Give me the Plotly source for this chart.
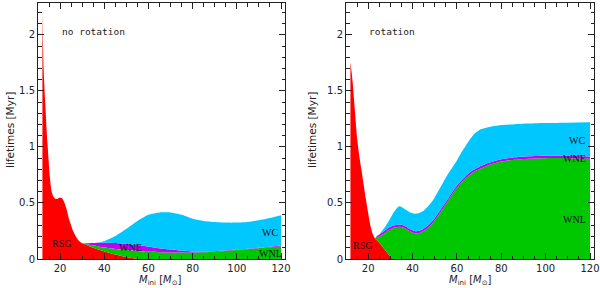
import plotly.graph_objects as go

# ---------------- data (cumulative upper edges of each phase, Myr) ----------------
# Left panel: no rotation
m_norot = [12, 12.5, 13.2, 14.3, 15.4, 16.1, 17, 18, 19, 20, 21, 22, 23, 24, 25, 26, 27, 28, 29, 30,
           32, 35, 38, 40, 45, 50, 55, 60, 65, 70, 75, 80, 85, 90, 95, 100, 105, 110, 115, 120]
rsg_norot = [2.2, 1.72, 1.42, 1.03, 0.73, 0.61, 0.555, 0.535, 0.54, 0.55, 0.54, 0.5, 0.44, 0.36, 0.3, 0.245,
             0.205, 0.175, 0.155, 0.14,
             0.125, 0.1, 0.08, 0.068, 0.04, 0.018, 0.003, 0, 0, 0, 0, 0, 0, 0, 0, 0, 0, 0, 0, 0]
wnl_norot = [2.2, 1.72, 1.42, 1.03, 0.73, 0.61, 0.555, 0.535, 0.54, 0.55, 0.54, 0.5, 0.44, 0.36, 0.3, 0.245,
             0.205, 0.175, 0.155, 0.14,
             0.135, 0.122, 0.11, 0.103, 0.09, 0.08, 0.072, 0.065, 0.061, 0.058, 0.057, 0.057, 0.06, 0.065,
             0.072, 0.08, 0.088, 0.097, 0.105, 0.112]
wne_norot = [2.2, 1.72, 1.42, 1.03, 0.73, 0.61, 0.555, 0.535, 0.54, 0.55, 0.54, 0.5, 0.44, 0.36, 0.3, 0.245,
             0.205, 0.175, 0.155, 0.14,
             0.14, 0.142, 0.144, 0.145, 0.143, 0.135, 0.124, 0.11, 0.096, 0.084, 0.074, 0.068, 0.067, 0.07,
             0.076, 0.084, 0.092, 0.101, 0.11, 0.12]
wc_norot = [2.2, 1.72, 1.42, 1.03, 0.73, 0.61, 0.555, 0.535, 0.54, 0.55, 0.54, 0.5, 0.44, 0.36, 0.3, 0.245,
            0.205, 0.175, 0.155, 0.14,
            0.14, 0.143, 0.15, 0.16, 0.205, 0.27, 0.34, 0.395, 0.415, 0.415, 0.395, 0.36, 0.34, 0.33,
            0.325, 0.325, 0.33, 0.345, 0.365, 0.39]

# Right panel: rotation
m_rot = [12, 13, 14, 15, 16, 17, 18, 19, 20, 21, 22, 23, 24, 25, 27, 29, 31, 33, 34, 35, 37, 39, 41, 43,
         45, 47, 49, 50, 52, 54, 56, 58, 60, 62, 64, 66, 68, 70, 74, 80, 90, 100, 110, 120]
rsg_rot = [1.76, 1.58, 1.33, 1.08, 0.92, 0.79, 0.66, 0.53, 0.41, 0.3, 0.225, 0.185, 0.165, 0.145, 0.095,
           0.045, 0, 0, 0, 0, 0, 0, 0, 0, 0, 0, 0, 0, 0, 0, 0, 0, 0, 0, 0, 0, 0, 0, 0, 0, 0, 0, 0, 0]
wnl_rot = [1.76, 1.58, 1.33, 1.08, 0.92, 0.79, 0.66, 0.53, 0.41, 0.3, 0.225, 0.185, 0.192, 0.2, 0.225,
           0.255, 0.275, 0.285, 0.287, 0.285, 0.27, 0.245, 0.228, 0.232, 0.25, 0.28, 0.32, 0.345, 0.4,
           0.46, 0.52, 0.58, 0.635, 0.68, 0.72, 0.755, 0.78, 0.8, 0.835, 0.87, 0.893, 0.9, 0.9, 0.895]
wne_rot = [1.76, 1.58, 1.33, 1.08, 0.92, 0.79, 0.66, 0.53, 0.41, 0.3, 0.225, 0.185, 0.205, 0.218, 0.245,
           0.276, 0.296, 0.306, 0.308, 0.306, 0.291, 0.266, 0.249, 0.253, 0.271, 0.301, 0.341, 0.366,
           0.421, 0.481, 0.541, 0.601, 0.656, 0.701, 0.741, 0.776, 0.801, 0.821, 0.856, 0.891, 0.914,
           0.921, 0.921, 0.916]
wc_rot = [1.76, 1.58, 1.33, 1.08, 0.92, 0.79, 0.66, 0.53, 0.41, 0.3, 0.225, 0.185, 0.2, 0.22, 0.27, 0.33,
          0.4, 0.455, 0.47, 0.465, 0.44, 0.415, 0.405, 0.41, 0.43, 0.47, 0.52, 0.55, 0.62, 0.69, 0.76,
          0.82, 0.88, 0.95, 1.01, 1.07, 1.12, 1.15, 1.175, 1.195, 1.208, 1.214, 1.217, 1.22]

phase_names = ["RSG", "WNL", "WNE", "WC"]
phase_colors = ["#ff0000", "#00c800", "#c400f4", "#00c8ff"]

panel_titles = ["no rotation", "rotation"]
labels_norot = [("RSG", 20.5, 0.134), ("WNE", 52, 0.104), ("WC", 115, 0.24), ("WNL", 115.3, 0.045)]
labels_rot = [("RSG", 17.3, 0.12), ("WNL", 113, 0.35), ("WNE", 113, 0.895), ("WC", 114.3, 1.06)]

x_range = [10, 121.8]
y_range = [0, 2.285]

# ---------------- geometry (pixels) ----------------
W, H = 600, 288
ML, MR, MT, MB = 38, 6, 3, 29
PW, PH = W - ML - MR, H - MT - MB


def px2paper_x(px):
    return (px - ML) / PW


def px2paper_y(py):
    return (H - MB - py) / PH


# ---------------- figure ----------------
fig = go.Figure()

panels = [
    ("x", "y", m_norot, [rsg_norot, wnl_norot, wne_norot, wc_norot]),
    ("x2", "y2", m_rot, [rsg_rot, wnl_rot, wne_rot, wc_rot]),
]
for xa, ya, m, tops in panels:
    for i, (top, col, name) in enumerate(zip(tops, phase_colors, phase_names)):
        fig.add_trace(go.Scatter(
            x=m, y=top, xaxis=xa, yaxis=ya, mode="lines",
            line=dict(width=0, color=col, shape="spline", smoothing=0.6),
            fill="tozeroy" if i == 0 else "tonexty", fillcolor=col,
            name=name, showlegend=False, hoverinfo="skip"))

tick_font = dict(family="DejaVu Sans", size=10, color="#222")
axis_common = dict(
    range=x_range, showgrid=False, zeroline=False, showline=True, linecolor="#222",
    linewidth=1, mirror="ticks", ticks="inside", ticklen=6, tickcolor="#222", tickwidth=1,
    tick0=0, dtick=20, automargin=False,
    minor=dict(ticks="inside", ticklen=3.5, dtick=5, tickcolor="#222", showgrid=False),
    tickfont=tick_font,
)
yaxis_common = dict(
    range=y_range, showgrid=False, zeroline=False, showline=True, linecolor="#222",
    linewidth=1, mirror="ticks", ticks="inside", ticklen=6, tickcolor="#222", tickwidth=1,
    tick0=0, dtick=0.5, automargin=False,
    minor=dict(ticks="inside", ticklen=3.5, dtick=0.1, tickcolor="#222", showgrid=False),
    tickfont=tick_font,
)

fig.update_layout(
    width=W, height=H,
    margin=dict(l=ML, r=MR, t=MT, b=MB, autoexpand=False),
    paper_bgcolor="white", plot_bgcolor="white",
    xaxis=dict(domain=[px2paper_x(38), px2paper_x(285)], anchor="y", **axis_common),
    yaxis=dict(domain=[0, 1], anchor="x", **yaxis_common),
    xaxis2=dict(domain=[px2paper_x(346), px2paper_x(594)], anchor="y2", **axis_common),
    yaxis2=dict(domain=[0, 1], anchor="x2", **yaxis_common),
)

annotations = []
for xref, yref, title, labs, tx in [("x", "y", panel_titles[0], labels_norot, 20),
                                    ("x2", "y2", panel_titles[1], labels_rot, 19.6)]:
    annotations.append(dict(x=tx, y=2.035, xref=xref, yref=yref, text=title, showarrow=False,
                            xanchor="left", yanchor="middle",
                            font=dict(family="DejaVu Sans Mono", size=9.5, color="#222")))
    for txt, lx, ly in labs:
        annotations.append(dict(x=lx, y=ly, xref=xref, yref=yref, text=txt, showarrow=False,
                                xanchor="center", yanchor="middle",
                                font=dict(family="Liberation Serif", size=10, color="#101020")))

# axis titles
for ytitle_px, xtitle_px in [(10, 160), (312, 470)]:
    annotations.append(dict(x=px2paper_x(ytitle_px), y=px2paper_y(130), xref="paper", yref="paper",
                            text="lifetimes [Myr]", textangle=-90, showarrow=False,
                            xanchor="center", yanchor="middle",
                            font=dict(family="DejaVu Sans", size=10.5, color="#222")))
    annotations.append(dict(x=px2paper_x(xtitle_px), y=px2paper_y(280), xref="paper", yref="paper",
                            text="<i>M</i><sub>ini</sub> [<i>M</i><sub>⊙</sub>]", showarrow=False,
                            xanchor="center", yanchor="middle",
                            font=dict(family="DejaVu Sans", size=10, color="#222")))

fig.update_layout(annotations=annotations)

fig.write_html("out.html", config={"displayModeBar": False, "staticPlot": True},
               post_script="document.body.style.margin='0';document.body.style.overflow='hidden';")
